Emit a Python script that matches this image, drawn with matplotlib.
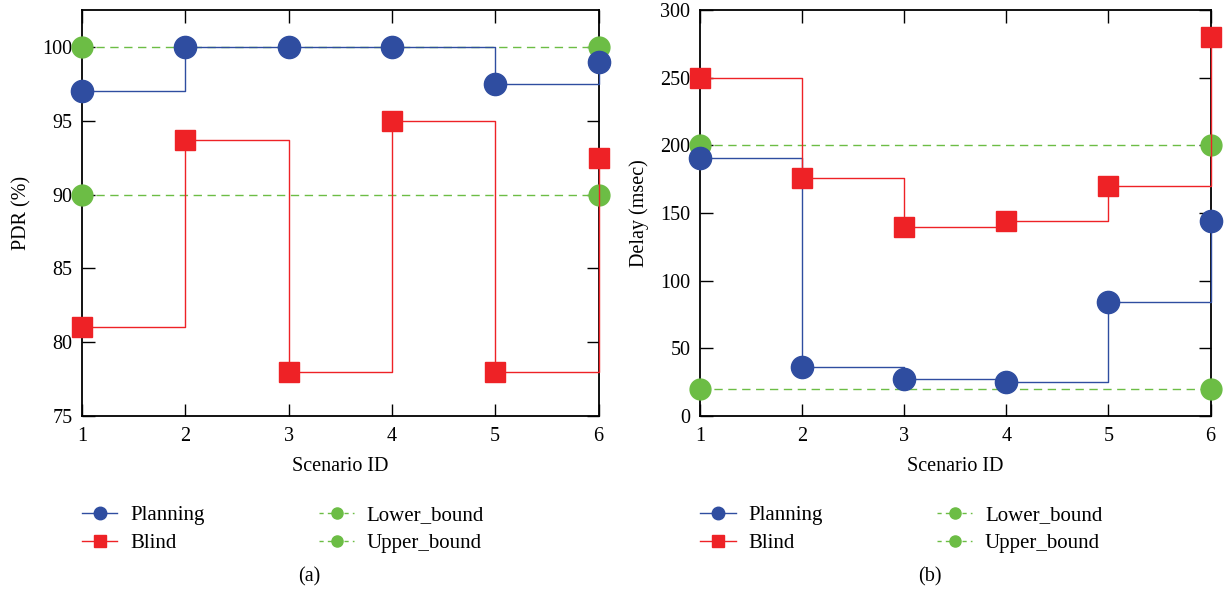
import matplotlib.pyplot as plt
from matplotlib.lines import Line2D

plt.rcParams['font.family'] = ['Liberation Serif', 'DejaVu Serif']

scenarios = [1, 2, 3, 4, 5, 6]

pdr_planning = [97, 100, 100, 100, 97.5, 99]
pdr_blind = [81, 93.7, 78, 95, 78, 92.5]
pdr_lower = [90, 90, 90, 90, 90, 90]
pdr_upper = [100, 100, 100, 100, 100, 100]

delay_planning = [191, 36, 27, 25, 84, 144]
delay_blind = [250, 176, 140, 144, 170, 280]
delay_lower = [20, 20, 20, 20, 20, 20]
delay_upper = [200, 200, 200, 200, 200, 200]

blue = '#2f4da0'
red = '#ee2226'
green = '#6cbd45'
fs = 14.5

fig = plt.figure(figsize=(12.24, 5.95), dpi=100)
ax1 = fig.add_axes([0.067, 0.301, 0.422, 0.682])
ax2 = fig.add_axes([0.572, 0.301, 0.417, 0.682])


def draw(ax, planning, blind, lower, upper):
    for b in (upper, lower):
        ax.plot(scenarios, b, '--', color=green, lw=1, dashes=(6, 4),
                marker='o', ms=15, markevery=[0, 5], clip_on=False, zorder=3)
    ax.plot(scenarios, planning, drawstyle='steps-post', color=blue, lw=1,
            marker='o', ms=16, clip_on=False, zorder=4)
    ax.plot(scenarios, blind, drawstyle='steps-post', color=red, lw=1,
            marker='s', ms=15, clip_on=False, zorder=4)
    ax.set_xlim(1, 6)
    ax.set_xticks(scenarios)
    ax.tick_params(direction='in', top=True, right=True, length=9, width=1,
                   labelsize=fs)
    ax.tick_params(axis='y', pad=7)
    ax.tick_params(axis='x', pad=8)
    for s in ax.spines.values():
        s.set_linewidth(1.3)
    ax.set_xlabel('Scenario ID', fontsize=fs, labelpad=8)


draw(ax1, pdr_planning, pdr_blind, pdr_lower, pdr_upper)
ax1.set_ylim(75, 102.5)
ax1.set_yticks([75, 80, 85, 90, 95, 100])
ax1.set_ylabel('PDR (%)', fontsize=fs, labelpad=8)

draw(ax2, delay_planning, delay_blind, delay_lower, delay_upper)
ax2.set_ylim(0, 300)
ax2.set_yticks(range(0, 301, 50))
ax2.set_ylabel('Delay (msec)', fontsize=fs, labelpad=8)

handles = [
    Line2D([], [], color=blue, lw=1, marker='o', ms=9),
    Line2D([], [], color=red, lw=1, marker='s', ms=8),
    Line2D([], [], color=green, lw=1, ls='--', dashes=(3, 3), marker='o', ms=8),
    Line2D([], [], color=green, lw=1, ls='--', dashes=(3, 3), marker='o', ms=8),
]
labels = ['Planning', 'Blind', 'Lower_bound', 'Upper_bound']

for x0, xc, cap in ((0.067, 0.253, '(a)'), (0.572, 0.760, '(b)')):
    fig.legend(handles, labels, ncol=2, loc='upper left',
               bbox_to_anchor=(x0, 0.150), frameon=False, fontsize=15,
               handlelength=1.7, handletextpad=0.6, columnspacing=5.5,
               labelspacing=0.4, borderaxespad=0, borderpad=0)
    fig.text(xc, 0.030, cap, fontsize=fs, ha='center', va='center')

fig.savefig('out.png', dpi=100)
